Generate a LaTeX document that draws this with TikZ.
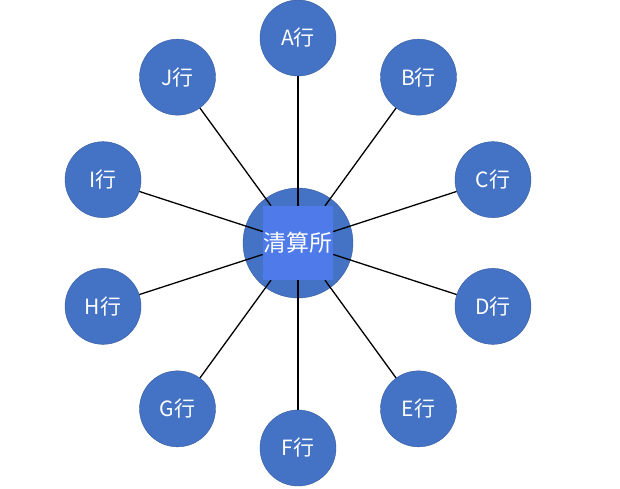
\documentclass[tikz,border=0pt]{standalone}
\usepackage{fontspec}
\setmainfont{Noto Sans CJK SC}
\usetikzlibrary{positioning,calc}
\definecolor{bankblue}{HTML}{4472C4}
\definecolor{hubblue}{HTML}{4F7BEA}
\tikzset{
    banknode/.style = {circle, draw=bankblue!80!black, fill=bankblue, minimum size=76pt, inner sep=0pt, text=white, font=\fontsize{21}{21}\selectfont},
    hubnode/.style = {circle, draw=bankblue!80!black, fill=bankblue, minimum size=110pt, inner sep=0pt},
    hubbox/.style = {rectangle, fill=hubblue, minimum width=70pt, minimum height=74pt, inner sep=0pt, text=white, font=\fontsize{23}{23}\selectfont},
    link/.style = {-, line width=1.3pt, black}
}
\begin{document}
\begin{tikzpicture}[x=1pt,y=-1pt]
  \useasboundingbox (0,0) rectangle (620,488);
  \node[hubnode] (hub) at (298,243) {};
  \foreach \name/\ang in {A/90,B/54,C/18,D/-18,E/-54,F/-90,G/-126,H/-162,I/162,J/126} {
    \node[banknode] (\name) at ($(298,243)+(\ang:205pt)$) {\name 行};
  }
  \node[hubbox] (box) at (298,243) {清算所};
  \foreach \name in {A,B,C,D,E,F,G,H,I,J} {
    \draw[link] (\name) -- (box);
  }
\end{tikzpicture}
\end{document}
